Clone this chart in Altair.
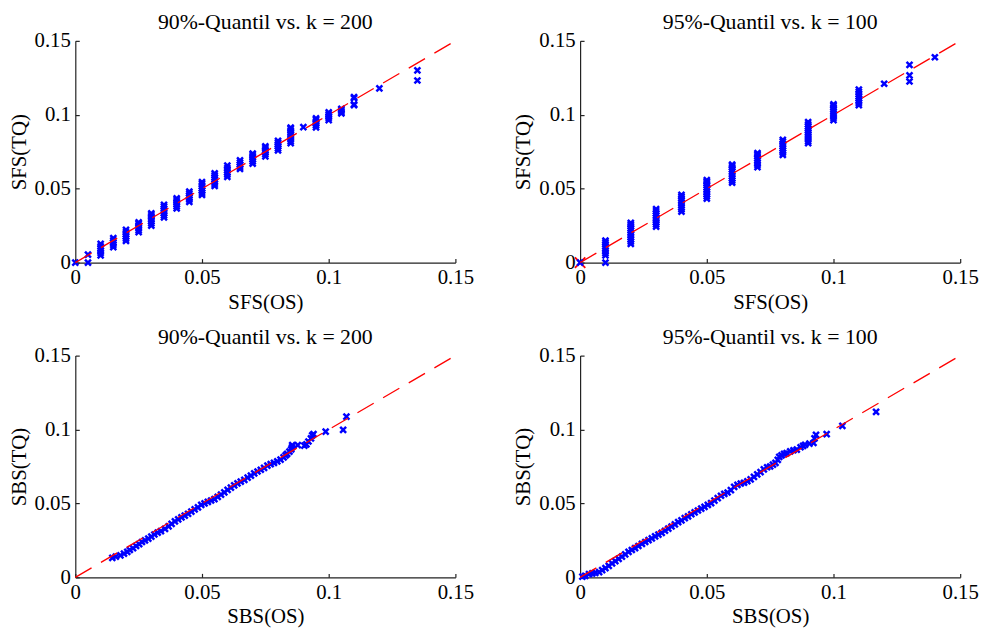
import altair as alt
import pandas as pd

FONT = "Liberation Serif"
W, H = 384, 224
TICKS = [0, 0.05, 0.1, 0.15]
REF_LINE = [0.0, 0.15]

TITLES = ["90%-Quantil vs. k = 200", "95%-Quantil vs. k = 100",
          "90%-Quantil vs. k = 200", "95%-Quantil vs. k = 100"]
XLABELS = ["SFS(OS)", "SFS(OS)", "SBS(OS)", "SBS(OS)"]
YLABELS = ["SFS(TQ)", "SFS(TQ)", "SBS(TQ)", "SBS(TQ)"]

# top-left: SFS, 90%-quantile, k=200 (clusters at discrete OS values)
TL_X = [0, 0.005, 0.01, 0.015, 0.02, 0.025, 0.03, 0.035, 0.04, 0.045, 0.05, 0.055,
        0.06, 0.065, 0.07, 0.075, 0.08, 0.085, 0.09, 0.095, 0.1, 0.105, 0.11, 0.12, 0.135]
TL_Y = [
    [0],
    [0, 0.0054],
    [0.0049, 0.0065, 0.0080, 0.0095, 0.0110, 0.0127],
    [0.0105, 0.0120, 0.0135, 0.0150, 0.0165],
    [0.0147, 0.0162, 0.0177, 0.0192, 0.0207, 0.0221],
    [0.0206, 0.0220, 0.0235, 0.0250, 0.0262, 0.0272],
    [0.0250, 0.0265, 0.0280, 0.0295, 0.0310, 0.0322, 0.0333],
    [0.0306, 0.0320, 0.0335, 0.0350, 0.0365, 0.0378, 0.0390],
    [0.0366, 0.0380, 0.0395, 0.0410, 0.0423, 0.0435],
    [0.0410, 0.0425, 0.0440, 0.0455, 0.0468, 0.0480],
    [0.0458, 0.0472, 0.0487, 0.0502, 0.0517, 0.0532, 0.0545],
    [0.0518, 0.0532, 0.0547, 0.0562, 0.0577, 0.0591, 0.0603],
    [0.0580, 0.0595, 0.0610, 0.0625, 0.0640, 0.0656],
    [0.0634, 0.0648, 0.0662, 0.0677, 0.0692],
    [0.0670, 0.0685, 0.0700, 0.0715, 0.0727, 0.0737],
    [0.0719, 0.0733, 0.0747, 0.0761, 0.0775, 0.0786],
    [0.0759, 0.0773, 0.0787, 0.0800, 0.0812, 0.0824],
    [0.0808, 0.0822, 0.0836, 0.0850, 0.0864, 0.0878, 0.0892, 0.0905, 0.0913],
    [0.0917],
    [0.0915, 0.0928, 0.0940, 0.0952, 0.0965, 0.0976],
    [0.0964, 0.0978, 0.0990, 0.1003, 0.1016],
    [0.1009, 0.1020, 0.1032, 0.1040],
    [0.1065, 0.1070, 0.1112, 0.1120],
    [0.1179],
    [0.1232, 0.1300],
]

# top-right: SFS, 95%-quantile, k=100
TR_X = [0, 0.01, 0.02, 0.03, 0.04, 0.05, 0.06, 0.07, 0.08, 0.09, 0.1, 0.11, 0.12, 0.13, 0.14]
TR_Y = [
    [0],
    [0, 0.0049, 0.0064, 0.0079, 0.0094, 0.0109, 0.0124, 0.0137, 0.0149],
    [0.0127, 0.0142, 0.0157, 0.0172, 0.0187, 0.0202, 0.0217, 0.0232, 0.0247, 0.0258, 0.0268],
    [0.0243, 0.0258, 0.0273, 0.0288, 0.0303, 0.0318, 0.0333, 0.0348, 0.0362],
    [0.0344, 0.0359, 0.0374, 0.0389, 0.0404, 0.0419, 0.0434, 0.0447, 0.0458],
    [0.0433, 0.0448, 0.0463, 0.0478, 0.0493, 0.0508, 0.0523, 0.0538, 0.0548, 0.0558],
    [0.0540, 0.0555, 0.0570, 0.0585, 0.0600, 0.0615, 0.0630, 0.0645, 0.0655, 0.0663],
    [0.0645, 0.0660, 0.0675, 0.0690, 0.0705, 0.0720, 0.0732, 0.0741],
    [0.0728, 0.0743, 0.0758, 0.0773, 0.0788, 0.0803, 0.0818, 0.0830],
    [0.0808, 0.0822, 0.0836, 0.0850, 0.0864, 0.0878, 0.0892, 0.0906, 0.0920, 0.0935, 0.0951],
    [0.0964, 0.0978, 0.0992, 0.1006, 0.1020, 0.1035, 0.1050, 0.1062, 0.1071],
    [0.1065, 0.1080, 0.1095, 0.1110, 0.1125, 0.1140, 0.1155, 0.1170],
    [0.1210],
    [0.1225, 0.1266, 0.1337],
    [0.1389],
]
TR_MARK_X = [0.0]
TR_MARK_Y = [0.0]

# bottom-left: SBS, 90%-quantile, k=200
BL_X = [0.0146, 0.0160, 0.0178, 0.0192, 0.0205, 0.0215, 0.0228, 0.0240, 0.0252, 0.0263,
        0.0275, 0.0288, 0.0300, 0.0312, 0.0325, 0.0338, 0.0354, 0.0368, 0.0380, 0.0393,
        0.0406, 0.0419, 0.0432, 0.0445, 0.0458, 0.0471, 0.0484, 0.0497, 0.0510, 0.0523,
        0.0536, 0.0549, 0.0562, 0.0575, 0.0588, 0.0601, 0.0614, 0.0627, 0.0640, 0.0653,
        0.0667, 0.0680, 0.0693, 0.0706, 0.0719, 0.0732, 0.0745, 0.0758, 0.0771, 0.0784,
        0.0797, 0.0810, 0.0822, 0.0830, 0.0836, 0.0845, 0.0852, 0.0855, 0.0856, 0.0878,
        0.0904, 0.0912, 0.0920, 0.0930, 0.0935, 0.0940, 0.0988, 0.1057, 0.1070]
BL_Y = [0.0132, 0.0140, 0.0149, 0.0160, 0.0172, 0.0185, 0.0197, 0.0212, 0.0225, 0.0239,
        0.0250, 0.0262, 0.0276, 0.0290, 0.0302, 0.0313, 0.0328, 0.0345, 0.0362, 0.0378,
        0.0392, 0.0406, 0.0418, 0.0430, 0.0445, 0.0460, 0.0473, 0.0490, 0.0500, 0.0510,
        0.0520, 0.0529, 0.0545, 0.0560, 0.0575, 0.0592, 0.0607, 0.0622, 0.0636, 0.0648,
        0.0660, 0.0674, 0.0688, 0.0703, 0.0716, 0.0728, 0.0741, 0.0756, 0.0766, 0.0775,
        0.0785, 0.0797, 0.0812, 0.0825, 0.0835, 0.0850, 0.0866, 0.0880, 0.0895, 0.0895,
        0.0891, 0.0900, 0.0919, 0.0940, 0.0960, 0.0969, 0.0986, 0.0998, 0.1087]

# bottom-right: SBS, 95%-quantile, k=100
BR_X = [0.0009, 0.0020, 0.0035, 0.0048, 0.0060, 0.0075, 0.0087, 0.0100, 0.0113, 0.0126,
        0.0139, 0.0152, 0.0165, 0.0178, 0.0191, 0.0204, 0.0217, 0.0230, 0.0244, 0.0257,
        0.0270, 0.0283, 0.0296, 0.0309, 0.0322, 0.0335, 0.0348, 0.0361, 0.0374, 0.0387,
        0.0400, 0.0413, 0.0426, 0.0439, 0.0452, 0.0465, 0.0478, 0.0491, 0.0504, 0.0517,
        0.0530, 0.0543, 0.0556, 0.0569, 0.0582, 0.0595, 0.0608, 0.0621, 0.0634, 0.0647,
        0.0660, 0.0673, 0.0686, 0.0699, 0.0712, 0.0725, 0.0738, 0.0750, 0.0761, 0.0771,
        0.0780, 0.0786, 0.0795, 0.0805, 0.0815, 0.0829, 0.0842, 0.0855, 0.0870, 0.0880,
        0.0888, 0.0905, 0.0921, 0.0925, 0.0931, 0.0973, 0.1035, 0.1168]
BR_Y = [0.0005, 0.0010, 0.0022, 0.0027, 0.0030, 0.0035, 0.0049, 0.0062, 0.0078, 0.0094,
        0.0110, 0.0125, 0.0140, 0.0156, 0.0172, 0.0185, 0.0198, 0.0212, 0.0226, 0.0239,
        0.0252, 0.0264, 0.0277, 0.0289, 0.0301, 0.0315, 0.0330, 0.0344, 0.0358, 0.0373,
        0.0386, 0.0400, 0.0413, 0.0427, 0.0440, 0.0452, 0.0465, 0.0477, 0.0490, 0.0502,
        0.0519, 0.0536, 0.0552, 0.0565, 0.0574, 0.0590, 0.0612, 0.0625, 0.0635, 0.0640,
        0.0650, 0.0663, 0.0680, 0.0697, 0.0712, 0.0730, 0.0745, 0.0750, 0.0762, 0.0775,
        0.0795, 0.0815, 0.0825, 0.0835, 0.0840, 0.0852, 0.0860, 0.0864, 0.0880, 0.0890,
        0.0897, 0.0905, 0.0909, 0.0940, 0.0964, 0.0969, 0.1025, 0.1120]

XPATH = "M -1 -1 L 1 1 M -1 1 L 1 -1"


def flatten(xs, ys):
    fx, fy = [], []
    for x, col in zip(xs, ys):
        for y in col:
            fx.append(x)
            fy.append(y)
    return fx, fy


def panel(xs, ys, title, xlab, ylab, mark_x=None, mark_y=None):
    scale = alt.Scale(domain=[0, 0.15], nice=False, zero=False)
    main_x = alt.Axis(title=xlab, values=TICKS, format=".2~f", ticks=False, labelFlush=False,
                      labelPadding=4, titlePadding=4, orient="bottom")
    main_y = alt.Axis(title=ylab, values=TICKS, format=".2~f", ticks=False, labelFlush=False,
                      labelPadding=5, titlePadding=5, orient="left")
    tick_x = alt.Axis(title=None, values=TICKS, labels=False, domain=False, ticks=True,
                      tickSize=4, orient="top", offset=-H)
    tick_y = alt.Axis(title=None, values=TICKS, labels=False, domain=False, ticks=True,
                      tickSize=4, orient="right", offset=-W)

    ref = pd.DataFrame({"x": REF_LINE, "y": REF_LINE})
    pts = pd.DataFrame({"x": xs, "y": ys})

    layers = []
    if mark_x is not None:
        mk = pd.DataFrame({"x": mark_x, "y": mark_y})
        layers.append(
            alt.Chart(mk).mark_point(shape=XPATH, filled=False, color="red", size=110,
                                     strokeWidth=1.8, opacity=1).encode(
                x=alt.X("x:Q", scale=scale, axis=None),
                y=alt.Y("y:Q", scale=scale, axis=None))
        )
    layers.append(
        alt.Chart(pts).mark_point(shape=XPATH, filled=False, color="#0000ff", size=36,
                                  strokeWidth=2.5, opacity=1).encode(
            x=alt.X("x:Q", scale=scale, axis=tick_x),
            y=alt.Y("y:Q", scale=scale, axis=tick_y))
    )
    layers.append(
        alt.Chart(ref).mark_line(color="#ff0000", strokeWidth=1.3, strokeDash=[19, 11]).encode(
            x=alt.X("x:Q", scale=scale, axis=main_x),
            y=alt.Y("y:Q", scale=scale, axis=main_y))
    )
    return alt.layer(*layers).resolve_axis(x="independent", y="independent").properties(
        width=W, height=H,
        title=alt.TitleParams(title, font=FONT, fontSize=22, fontWeight="normal",
                              anchor="middle", offset=-4, color="black", frame="group"),
    )


tlx, tly = flatten(TL_X, TL_Y)
trx, try_ = flatten(TR_X, TR_Y)

tl = panel(tlx, tly, TITLES[0], XLABELS[0], YLABELS[0])
tr = panel(trx, try_, TITLES[1], XLABELS[1], YLABELS[1], TR_MARK_X, TR_MARK_Y)
bl = panel(BL_X, BL_Y, TITLES[2], XLABELS[2], YLABELS[2])
br = panel(BR_X, BR_Y, TITLES[3], XLABELS[3], YLABELS[3])

chart = alt.vconcat(
    alt.hconcat(tl, tr, spacing=39),
    alt.hconcat(bl, br, spacing=39),
    spacing=14,
).properties(padding=0).configure_view(stroke=None).configure_axis(
    labelFont=FONT, titleFont=FONT, labelFontSize=21, titleFontSize=21,
    titleFontWeight="normal", grid=False, domainColor="#222", tickColor="#222",
    labelColor="black", titleColor="black", domainWidth=1.2, tickWidth=1.2,
)

chart.save("out.html", embed_options={"renderer": "svg", "actions": False})
